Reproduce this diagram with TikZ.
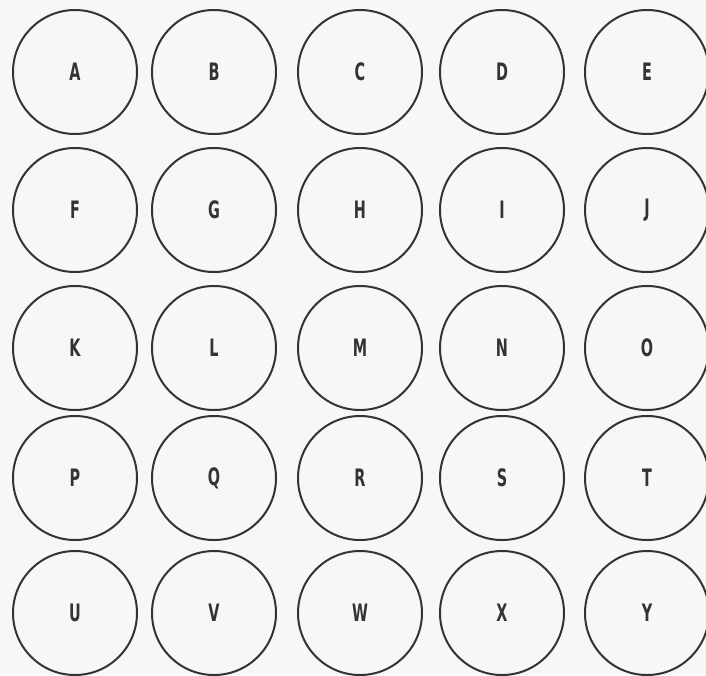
\documentclass[tikz,border=0pt]{standalone}
\usepackage{fontspec}
\setmainfont{DejaVu Sans Condensed}
\newcommand{\wellletter}[1]{\scalebox{0.8}[1.2]{#1}}
\begin{document}
\begin{tikzpicture}[x=1pt,y=-1pt,
  well/.style={circle,draw=black!80,line width=2pt,minimum size=124pt,inner sep=0pt,
    font=\fontsize{20}{20}\selectfont\bfseries,text=black!80}]
\useasboundingbox[fill=black!3] (0,0) rectangle (706,675);
\def\xs{{75,214,360,502,647}}
\def\ys{{72,210,348,478,613}}
\foreach \L [count=\i from 0] in {A,B,C,D,E,F,G,H,I,J,K,L,M,N,O,P,Q,R,S,T,U,V,W,X,Y}{
  \pgfmathtruncatemacro{\c}{mod(\i,5)}
  \pgfmathtruncatemacro{\r}{div(\i,5)}
  \pgfmathsetmacro{\px}{\xs[\c]}
  \pgfmathsetmacro{\py}{\ys[\r]}
  \node[well] (\L) at (\px,\py) {\wellletter{\L}};
}
\end{tikzpicture}
\end{document}
